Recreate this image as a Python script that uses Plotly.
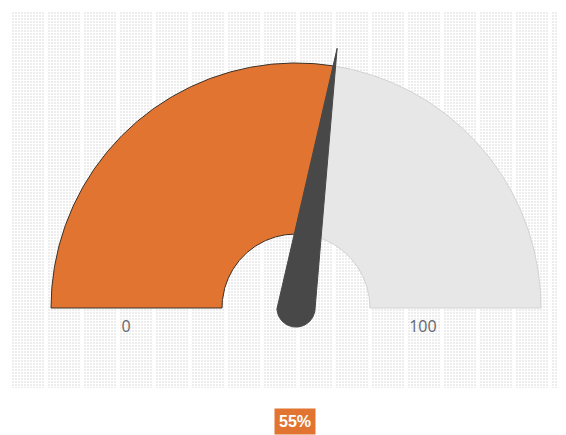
import numpy as np
import plotly.graph_objects as go

# ---- data ----
gauge_min = 0
gauge_max = 100
value = 55
value_label = "55%"
tick_labels = ["0", "100"]

# ---- geometry (data units, outer radius = 1) ----
R_OUT = 1.0
R_IN = 0.302
NEEDLE_LEN = 1.073
NEEDLE_BASE = 0.078

def frac_to_angle(v):
    f = (v - gauge_min) / (gauge_max - gauge_min)
    return np.pi * (1 - f)

def band(a0, a1, n=200):
    t = np.linspace(a0, a1, n)
    xo, yo = R_OUT * np.cos(t), R_OUT * np.sin(t)
    xi, yi = R_IN * np.cos(t[::-1]), R_IN * np.sin(t[::-1])
    x = np.concatenate([xo, xi, xo[:1]])
    y = np.concatenate([yo, yi, yo[:1]])
    return x, y

a_val = frac_to_angle(value)
fig = go.Figure()

xg, yg = band(a_val, 0)
fig.add_trace(go.Scatter(x=xg, y=yg, fill="toself", mode="lines",
                         fillcolor="#e7e7e7", line=dict(color="#d2d2d2", width=1),
                         hoverinfo="skip", showlegend=False))
xo, yo = band(np.pi, a_val)
fig.add_trace(go.Scatter(x=xo, y=yo, fill="toself", mode="lines",
                         fillcolor="#e27431", line=dict(color="#3c3024", width=1),
                         hoverinfo="skip", showlegend=False))

# needle
t = np.linspace(a_val + np.pi / 2, a_val + 3 * np.pi / 2, 60)
nx = np.concatenate([[NEEDLE_LEN * np.cos(a_val)], NEEDLE_BASE * np.cos(t), [NEEDLE_LEN * np.cos(a_val)]])
ny = np.concatenate([[NEEDLE_LEN * np.sin(a_val)], NEEDLE_BASE * np.sin(t), [NEEDLE_LEN * np.sin(a_val)]])
fig.add_trace(go.Scatter(x=nx, y=ny, fill="toself", mode="lines",
                         fillcolor="#484848", line=dict(color="#484848", width=1),
                         hoverinfo="skip", showlegend=False))

# tick labels
fig.add_trace(go.Scatter(x=[-0.694, 0.518], y=[-0.082, -0.082], mode="text",
                         text=tick_labels,
                         textfont=dict(family="Open Sans, Liberation Sans", size=16, color="#62666e"),
                         hoverinfo="skip", showlegend=False))

# page offset of 8px (default body margin) -> figure is 558x427
OFF = 8
W, H = 566 - OFF, 435 - OFF
S = 245.0
CX, CY = 296 - OFF, 308 - OFF
L, T, Rr, B = 12 - OFF, 12 - OFF, 562 - OFF, 388 - OFF
x0 = (L - CX) / S
x1 = (Rr - CX) / S
y0 = (CY - B) / S
y1 = (CY - T) / S

# value label box (below the plot area, paper coords)
ly = 421 - OFF
fig.add_annotation(x=(295 - OFF - L) / (Rr - L), y=(B - ly) / (B - T),
                   xref="paper", yref="paper",
                   text="<b>" + value_label + "</b>", showarrow=False,
                   font=dict(family="Liberation Sans Narrow, Liberation Sans", size=16, color="white"),
                   bgcolor="#e27431", borderpad=4, xanchor="center", yanchor="middle")

fig.update_xaxes(range=[x0, x1], showticklabels=False, zeroline=False,
                 showgrid=True, gridcolor="white", gridwidth=3,
                 tick0=(45 - 296) / S, dtick=36 / S, ticks="",
                 minor=dict(showgrid=True, gridcolor="#ffffff", gridwidth=1, dtick=3 / S, tick0=0))
fig.update_yaxes(range=[y0, y1], showticklabels=False, zeroline=False,
                 showgrid=True, gridcolor="white", gridwidth=1,
                 tick0=0, dtick=3 / S, ticks="")

fig.update_layout(width=W, height=H,
                  margin=dict(l=L, r=W - Rr, t=T, b=H - B),
                  paper_bgcolor="white", plot_bgcolor="#ededed")

fig.write_html("out.html")
